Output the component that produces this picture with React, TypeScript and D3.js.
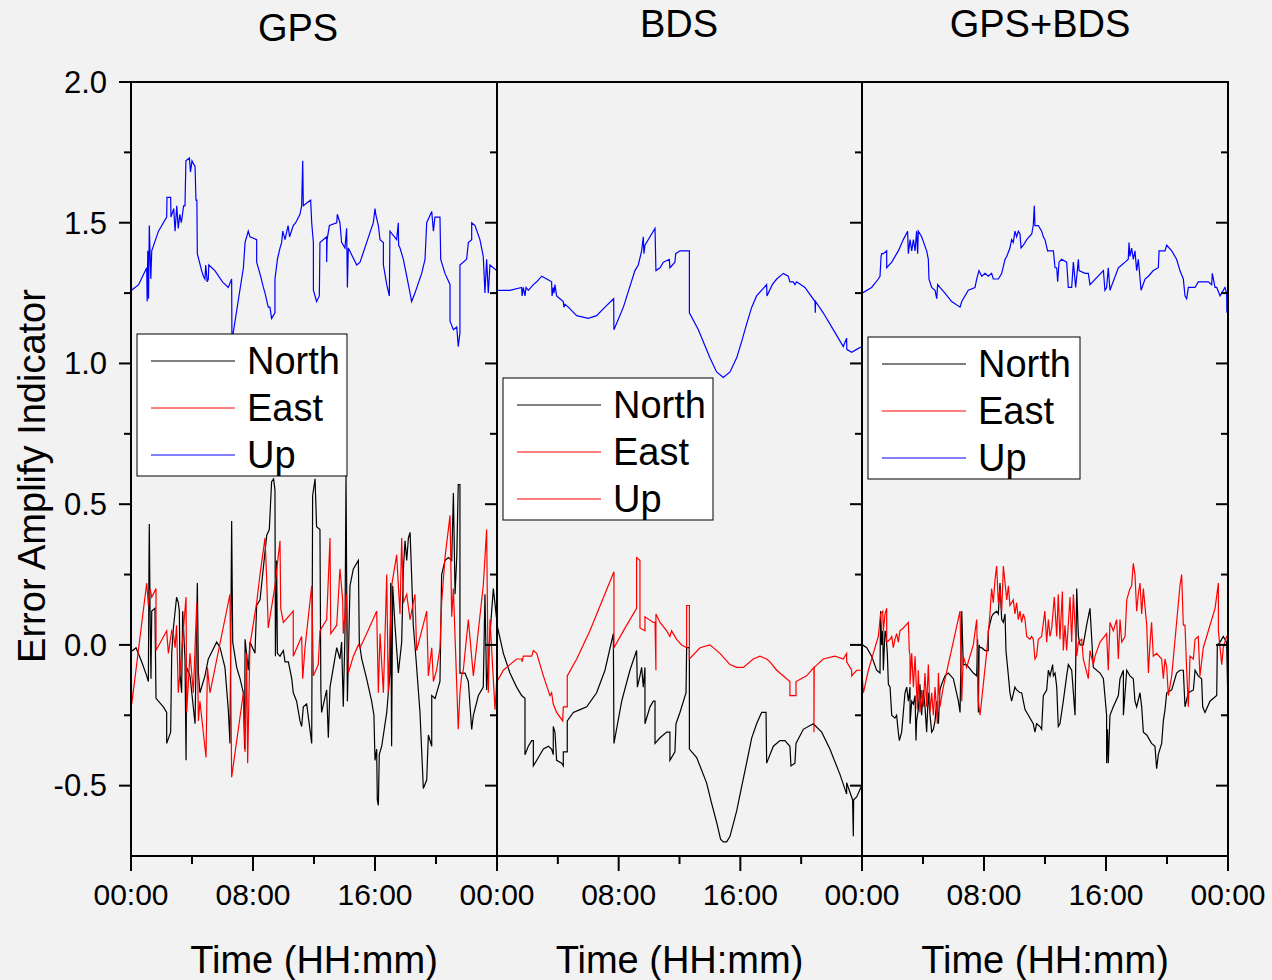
import React from 'react';
import * as d3 from 'd3';

type Pt = [number, number];

const panelTitles = ['GPS', 'BDS', 'GPS+BDS'];
const seriesNames = ['North', 'East', 'Up'];
const yTicks = [-0.5, 0, 0.5, 1.0, 1.5, 2.0];
const yMinorTicks = [-0.25, 0.25, 0.75, 1.25, 1.75];
const xTicks = [0, 8, 16, 24];
const xMinorTicks = [4, 12, 20];
const xTickLabels = ['00:00', '08:00', '16:00', '00:00'];
const xAxisTitle = 'Time (HH:mm)';
const yAxisTitle = 'Error Amplify Indicator';

// ---------- GPS ----------
const gpsNorth: Pt[] = [[0,-0.02],[0.11,-0.02],[0.33,-0.01],[0.7,-0.06],[1.03,-0.11],[1.14,-0.13],[1.18,0.30],[1.2,0.43],[1.25,0.12],[1.31,-0.12],[1.36,0.12],[1.57,0.13],[1.64,-0.19],[2.12,-0.22],[2.34,-0.24],[2.34,-0.35],[2.6,-0.31],[2.67,-0.03],[2.78,0.06],[2.99,0.17],[3.1,0.15],[3.17,0.12],[3.21,-0.10],[3.32,-0.17],[3.39,0.12],[3.54,-0.05],[3.61,-0.41],[3.65,-0.08],[3.87,-0.11],[4.2,-0.28],[4.35,0.22],[4.42,-0.10],[4.52,-0.17],[4.85,-0.11],[5.07,-0.05],[5.62,0.01],[5.84,-0.01],[6.16,-0.08],[6.38,-0.23],[6.49,-0.35],[6.6,0.44],[6.67,0.01],[6.93,-0.08],[7.15,-0.12],[7.37,-0.17],[7.45,-0.37],[7.48,0.02],[7.69,-0.09],[7.8,0.01],[8.13,-0.03],[8.24,0.14],[8.46,0.16],[8.9,0.39],[9.07,0.41],[9.22,0.58],[9.35,0.59],[9.44,0.55],[9.47,-0.04],[9.55,0.30],[9.6,-0.03],[9.77,-0.04],[9.99,-0.02],[10.1,-0.06],[10.32,-0.06],[10.54,-0.12],[10.64,-0.17],[10.86,-0.20],[11.08,-0.27],[11.19,-0.29],[11.3,-0.22],[11.52,-0.21],[11.85,-0.35],[11.91,0.53],[12.07,0.59],[12.17,0.42],[12.39,0.41],[12.45,-0.16],[12.5,-0.24],[12.83,-0.16],[12.94,-0.33],[13.05,-0.15],[13.49,-0.01],[13.7,-0.05],[13.81,0.01],[13.92,-0.22],[14.03,0.04],[14.1,0.60],[14.19,-0.20],[14.36,0.21],[14.58,0.27],[14.91,0.30],[14.97,0.01],[15.13,-0.05],[15.45,-0.12],[15.78,-0.20],[15.93,-0.25],[16.0,-0.41],[16.11,-0.37],[16.15,-0.55],[16.22,-0.57],[16.28,-0.39],[16.44,-0.36],[16.77,-0.24],[16.98,-0.10],[17.03,0.22],[17.09,-0.36],[17.16,0.21],[17.31,0.07],[17.53,-0.10],[17.75,0.01],[17.86,0.27],[17.97,0.37],[18.08,0.30],[18.19,0.38],[18.3,0.40],[18.4,0.25],[18.51,0.07],[18.69,-0.05],[18.95,-0.24],[19.17,-0.51],[19.39,-0.48],[19.5,-0.32],[19.72,-0.36],[19.72,-0.18],[19.94,-0.19],[20.26,-0.13],[20.37,0.25],[20.59,0.30],[20.81,0.31],[21.03,0.30],[21.14,0.54],[21.25,0.18],[21.36,0.31],[21.46,0.57],[21.57,0.57],[21.57,-0.10],[21.9,-0.10],[22.12,-0.13],[22.34,-0.30],[22.45,-0.25],[22.78,-0.18],[23.1,-0.15],[23.21,0.18],[23.32,-0.16],[23.54,0.04],[23.76,0.20],[23.98,0.09],[24,0.06]];

const gpsEast: Pt[] = [[0,-0.04],[0.05,-0.21],[1.03,0.22],[1.14,0.14],[1.25,0.20],[1.36,0.17],[1.64,0.20],[1.64,-0.02],[2.34,0.05],[2.45,-0.03],[2.67,0.05],[2.78,0.04],[2.89,-0.01],[2.99,0.07],[3.1,-0.17],[3.61,0.17],[3.65,-0.24],[3.87,-0.03],[4.09,-0.17],[4.31,0.15],[4.42,-0.27],[4.52,-0.20],[4.92,-0.40],[5.01,-0.08],[5.18,-0.17],[6.49,0.18],[6.6,-0.47],[7.37,-0.17],[7.48,-0.38],[7.58,-0.03],[7.65,-0.42],[7.8,0.00],[8.24,0.15],[8.46,0.25],[8.79,0.38],[8.9,0.23],[9.0,0.06],[9.44,0.21],[9.77,0.37],[9.82,0.13],[9.99,0.08],[10.64,0.12],[10.64,-0.04],[11.19,0.03],[11.26,-0.12],[11.41,-0.01],[11.85,0.21],[11.96,-0.11],[12.28,-0.07],[12.39,0.05],[12.83,0.09],[13.05,0.38],[13.1,0.04],[13.49,0.07],[13.7,0.27],[13.88,0.16],[13.92,0.04],[14.14,0.18],[14.25,-0.10],[14.58,-0.04],[14.91,0.00],[15.02,-0.01],[15.45,0.04],[16.11,0.12],[16.22,-0.17],[16.33,0.04],[16.55,-0.17],[16.77,0.25],[16.87,-0.17],[17.09,0.21],[17.42,0.32],[17.64,0.11],[17.75,0.38],[17.86,0.15],[18.08,0.18],[18.3,0.09],[18.51,0.15],[18.62,0.18],[18.73,-0.02],[19.39,0.12],[19.5,-0.11],[19.72,-0.01],[19.83,-0.13],[20.04,-0.09],[20.26,-0.01],[20.37,0.15],[20.59,0.31],[20.92,0.46],[21.03,0.10],[21.14,0.20],[21.46,-0.30],[21.57,-0.17],[21.68,-0.11],[21.79,-0.09],[22.12,0.09],[22.45,-0.11],[23.1,0.21],[23.32,0.41],[23.43,-0.17],[23.54,0.09],[23.87,-0.23],[24,-0.11]];

const gpsUp: Pt[] = [[0,1.33],[0.04,1.26],[0.5,1.28],[1.03,1.34],[1.06,1.22],[1.1,1.40],[1.15,1.23],[1.2,1.49],[1.3,1.30],[1.36,1.40],[1.8,1.47],[2.34,1.52],[2.36,1.59],[2.6,1.59],[2.62,1.52],[2.8,1.55],[2.89,1.47],[3.0,1.56],[3.1,1.48],[3.2,1.53],[3.3,1.50],[3.45,1.56],[3.54,1.56],[3.6,1.72],[3.83,1.73],[3.9,1.68],[4.0,1.72],[4.09,1.71],[4.2,1.70],[4.26,1.58],[4.32,1.58],[4.35,1.39],[4.63,1.33],[4.75,1.31],[4.85,1.30],[4.9,1.35],[5.0,1.29],[5.07,1.30],[5.1,1.35],[5.5,1.33],[6.0,1.29],[6.38,1.27],[6.6,1.30],[6.62,1.08],[7.37,1.34],[7.48,1.43],[7.69,1.47],[7.8,1.45],[8.24,1.44],[8.24,1.36],[8.5,1.31],[8.68,1.27],[8.79,1.25],[9.0,1.20],[9.11,1.20],[9.22,1.16],[9.44,1.18],[9.44,1.30],[9.6,1.37],[9.77,1.41],[9.88,1.43],[9.95,1.47],[10.1,1.44],[10.3,1.49],[10.4,1.45],[10.64,1.49],[10.8,1.50],[11.08,1.53],[11.19,1.56],[11.26,1.72],[11.3,1.56],[11.52,1.57],[11.78,1.58],[11.85,1.50],[11.91,1.46],[11.96,1.43],[11.96,1.26],[12.17,1.22],[12.35,1.24],[12.39,1.43],[12.83,1.45],[12.83,1.36],[12.86,1.44],[13.01,1.49],[13.49,1.50],[13.53,1.53],[13.7,1.50],[13.81,1.43],[14.03,1.41],[14.14,1.48],[14.19,1.27],[14.25,1.41],[14.8,1.35],[15.02,1.36],[15.89,1.50],[16.0,1.55],[16.05,1.53],[16.22,1.49],[16.33,1.44],[16.55,1.43],[16.55,1.35],[16.77,1.28],[16.94,1.24],[16.98,1.47],[17.42,1.44],[17.53,1.50],[17.55,1.42],[17.64,1.41],[17.86,1.37],[18.08,1.31],[18.3,1.25],[18.4,1.22],[18.62,1.25],[19.06,1.32],[19.28,1.37],[19.39,1.50],[19.72,1.54],[19.83,1.47],[19.93,1.52],[20.26,1.52],[20.31,1.37],[20.59,1.32],[20.92,1.28],[20.92,1.15],[21.14,1.12],[21.36,1.13],[21.46,1.06],[21.57,1.11],[21.57,1.35],[22.01,1.37],[22.12,1.43],[22.34,1.44],[22.34,1.50],[22.56,1.49],[22.88,1.44],[23.1,1.38],[23.21,1.25],[23.32,1.37],[23.43,1.25],[23.54,1.35],[23.98,1.33],[24,1.26]];

// ---------- BDS ----------
const bdsNorth: Pt[] = [[0,0.07],[0.09,0.05],[0.42,-0.03],[0.85,-0.10],[1.29,-0.15],[1.62,-0.18],[1.84,-0.19],[1.84,-0.39],[2.06,-0.36],[2.28,-0.34],[2.39,-0.34],[2.39,-0.43],[2.72,-0.40],[3.05,-0.37],[3.38,-0.36],[3.59,-0.37],[3.70,-0.39],[3.70,-0.29],[3.81,-0.31],[3.92,-0.41],[4.25,-0.42],[4.36,-0.43],[4.36,-0.38],[4.62,-0.38],[4.62,-0.27],[5.02,-0.24],[5.46,-0.23],[5.90,-0.22],[6.55,-0.17],[7.10,-0.09],[7.65,0.04],[7.69,-0.35],[8.20,-0.20],[8.74,-0.09],[9.18,-0.02],[9.23,-0.15],[9.40,-0.11],[9.51,-0.08],[9.62,-0.15],[9.73,-0.08],[9.73,-0.28],[10.06,-0.22],[10.28,-0.20],[10.39,-0.20],[10.39,-0.35],[10.72,-0.33],[11.16,-0.31],[11.37,-0.31],[11.37,-0.41],[11.70,-0.38],[11.77,-0.28],[12.03,-0.24],[12.43,-0.17],[12.47,-0.01],[12.65,-0.01],[12.65,-0.37],[13.13,-0.40],[13.78,-0.49],[14.1,-0.56],[14.44,-0.63],[14.7,-0.69],[14.88,-0.70],[15.1,-0.70],[15.32,-0.68],[15.76,-0.59],[16.1,-0.50],[16.41,-0.42],[16.75,-0.33],[17.07,-0.28],[17.40,-0.24],[17.69,-0.24],[17.73,-0.42],[18.17,-0.36],[18.61,-0.34],[18.93,-0.34],[19.26,-0.36],[19.33,-0.43],[19.59,-0.42],[19.66,-0.35],[20.14,-0.30],[20.80,-0.28],[21.35,-0.31],[21.89,-0.37],[22.55,-0.46],[22.99,-0.53],[22.99,-0.49],[23.38,-0.55],[23.43,-0.68],[23.45,-0.55],[23.65,-0.54],[23.98,-0.50],[24,-0.50]];

const bdsEast: Pt[] = [[0,-0.13],[0.42,-0.09],[0.85,-0.07],[1.29,-0.05],[1.62,-0.05],[1.65,-0.06],[1.73,-0.04],[1.95,-0.04],[2.28,-0.04],[2.39,-0.02],[2.61,-0.03],[3.05,-0.11],[3.48,-0.18],[3.59,-0.17],[3.70,-0.21],[3.92,-0.24],[4.32,-0.27],[4.36,-0.22],[4.62,-0.22],[4.62,-0.11],[5.24,-0.05],[6.11,0.05],[7.69,0.26],[7.69,-0.01],[8.31,0.05],[9.18,0.13],[9.18,0.31],[9.40,0.30],[9.40,0.06],[9.73,0.05],[9.73,0.10],[10.28,0.08],[10.39,0.08],[10.45,-0.09],[10.45,0.11],[10.72,0.08],[11.16,0.05],[11.37,0.03],[11.48,0.05],[11.81,0.02],[12.14,0.0],[12.47,-0.01],[12.47,0.14],[12.65,0.14],[12.65,-0.05],[13.35,-0.01],[14.0,0.0],[14.66,-0.03],[15.32,-0.07],[15.76,-0.08],[16.20,-0.08],[16.85,-0.05],[17.29,-0.04],[17.73,-0.05],[17.95,-0.06],[18.39,-0.09],[19.26,-0.13],[19.26,-0.18],[19.66,-0.18],[19.66,-0.13],[20.36,-0.11],[20.84,-0.08],[20.84,-0.31],[20.86,-0.08],[21.45,-0.05],[22.22,-0.04],[22.77,-0.05],[22.99,-0.03],[22.99,-0.06],[23.32,-0.09],[23.32,-0.11],[23.65,-0.09],[24,-0.09]];

const bdsUp: Pt[] = [[0,1.26],[0.85,1.26],[1.62,1.27],[1.65,1.24],[1.73,1.27],[1.84,1.24],[1.91,1.27],[2.06,1.26],[2.39,1.28],[2.61,1.29],[2.94,1.31],[3.27,1.30],[3.59,1.29],[3.62,1.24],[3.70,1.27],[3.75,1.25],[3.81,1.28],[3.92,1.24],[4.14,1.23],[4.36,1.22],[4.40,1.20],[4.47,1.21],[4.69,1.20],[5.24,1.17],[6.0,1.16],[6.55,1.17],[7.10,1.20],[7.67,1.23],[7.69,1.12],[8.31,1.20],[9.07,1.33],[9.29,1.35],[9.51,1.40],[9.62,1.45],[9.66,1.39],[9.73,1.42],[10.06,1.45],[10.39,1.48],[10.45,1.33],[10.72,1.34],[10.94,1.36],[11.33,1.37],[11.37,1.34],[11.70,1.36],[11.75,1.39],[12.03,1.40],[12.36,1.40],[12.65,1.40],[12.65,1.18],[13.24,1.12],[14.0,1.02],[14.44,0.97],[14.88,0.95],[15.32,0.97],[15.76,1.02],[16.1,1.08],[16.41,1.14],[16.75,1.20],[17.07,1.24],[17.73,1.28],[17.75,1.24],[18.1,1.28],[18.39,1.30],[18.83,1.32],[19.15,1.31],[19.26,1.29],[19.48,1.29],[19.59,1.28],[19.70,1.29],[20.25,1.27],[20.91,1.22],[20.93,1.18],[20.95,1.22],[21.45,1.18],[22.11,1.12],[22.77,1.06],[22.99,1.09],[23.0,1.05],[23.32,1.04],[23.65,1.05],[23.98,1.06],[24,1.06]];

// ---------- GPS+BDS ----------
const comNorth: Pt[] = [[0,0.00],[0.04,0.00],[0.31,-0.01],[0.63,-0.04],[0.96,-0.09],[1.18,-0.10],[1.22,0.12],[1.29,0.00],[1.36,0.05],[1.40,-0.09],[1.51,0.05],[1.57,0.04],[1.66,-0.03],[1.73,-0.14],[1.84,-0.15],[1.95,-0.25],[2.16,-0.26],[2.27,-0.25],[2.38,-0.31],[2.45,-0.34],[2.60,-0.31],[2.71,-0.24],[2.82,-0.17],[2.93,-0.15],[3.04,-0.20],[3.15,-0.15],[3.15,-0.28],[3.26,-0.20],[3.37,-0.21],[3.48,-0.18],[3.54,-0.34],[3.58,-0.27],[3.69,-0.23],[3.80,-0.14],[3.91,-0.25],[4.02,-0.16],[4.13,-0.22],[4.24,-0.31],[4.35,-0.17],[4.46,-0.25],[4.57,-0.31],[4.68,-0.30],[4.79,-0.27],[4.90,-0.20],[5.01,-0.28],[5.11,-0.16],[5.22,-0.14],[5.44,-0.11],[5.66,-0.10],[5.99,-0.12],[6.32,-0.20],[6.43,-0.24],[6.54,0.12],[6.64,-0.07],[6.86,-0.07],[7.30,-0.10],[7.52,-0.11],[7.58,0.02],[7.63,-0.24],[7.68,0.00],[7.74,-0.01],[7.85,-0.01],[8.07,-0.02],[8.28,-0.02],[8.28,0.05],[8.50,0.10],[8.61,0.11],[8.83,0.12],[8.94,0.11],[9.05,0.22],[9.09,0.17],[9.16,0.09],[9.27,0.08],[9.38,0.11],[9.44,-0.02],[9.60,-0.11],[9.70,-0.17],[9.81,-0.20],[10.03,-0.15],[10.14,-0.16],[10.36,-0.17],[10.47,-0.17],[10.58,-0.20],[10.69,-0.23],[10.91,-0.25],[11.23,-0.28],[11.34,-0.31],[11.45,-0.28],[11.67,-0.29],[11.78,-0.30],[11.89,-0.18],[12.11,-0.16],[12.22,-0.09],[12.33,-0.11],[12.50,-0.07],[12.55,-0.11],[12.66,-0.10],[12.77,-0.15],[12.87,-0.29],[12.98,-0.28],[13.20,-0.20],[13.42,-0.11],[13.53,-0.07],[13.64,-0.08],[13.75,-0.09],[13.86,-0.17],[13.97,-0.25],[14.08,0.20],[14.19,0.03],[14.30,0.00],[14.51,0.00],[14.73,0.07],[14.95,0.13],[15.17,-0.08],[15.61,-0.10],[15.83,-0.12],[16.04,-0.25],[16.04,-0.42],[16.10,-0.30],[16.15,-0.42],[16.26,-0.25],[16.48,-0.22],[16.81,-0.18],[16.92,-0.12],[17.14,-0.09],[17.14,-0.25],[17.36,-0.09],[17.57,-0.11],[17.79,-0.12],[17.90,-0.20],[18.01,-0.22],[18.23,-0.17],[18.34,-0.22],[18.45,-0.31],[18.67,-0.32],[18.99,-0.35],[19.21,-0.36],[19.32,-0.44],[19.43,-0.39],[19.65,-0.35],[19.76,-0.27],[19.87,-0.23],[19.98,-0.17],[20.31,-0.16],[20.63,-0.10],[20.85,-0.09],[21.07,-0.09],[21.18,-0.22],[21.40,-0.17],[21.73,-0.16],[21.84,-0.09],[22.05,-0.11],[22.27,-0.12],[22.34,-0.22],[22.49,-0.24],[22.82,-0.20],[23.26,-0.18],[23.30,0.00],[23.48,0.01],[23.69,0.03],[23.91,0.01],[24,-0.22]];

const comEast: Pt[] = [[0,-0.10],[0.09,-0.17],[0.42,-0.09],[0.74,-0.03],[1.07,0.03],[1.22,0.11],[1.36,0.12],[1.40,0.05],[1.51,0.11],[1.62,0.13],[1.62,0.01],[1.84,0.02],[1.95,0.03],[2.05,-0.01],[2.16,0.02],[2.27,0.04],[2.38,0.01],[2.49,0.05],[2.71,0.06],[3.04,0.08],[3.10,-0.02],[3.15,-0.04],[3.15,-0.14],[3.26,-0.03],[3.37,-0.15],[3.48,-0.04],[3.63,-0.23],[3.69,-0.09],[3.80,-0.24],[3.91,-0.16],[4.02,-0.22],[4.13,-0.10],[4.24,-0.22],[4.35,-0.07],[4.46,-0.24],[4.57,-0.17],[4.68,-0.25],[4.79,-0.15],[4.94,-0.28],[5.01,-0.10],[5.11,-0.22],[5.33,-0.15],[6.43,0.12],[6.54,-0.20],[6.64,-0.04],[6.86,-0.08],[7.30,0.00],[7.52,0.09],[7.63,-0.20],[7.74,-0.25],[8.17,-0.03],[8.39,0.11],[8.50,0.20],[8.61,0.15],[8.72,0.23],[8.83,0.28],[8.94,0.15],[9.05,0.20],[9.16,0.12],[9.27,0.28],[9.38,0.22],[9.49,0.16],[9.60,0.21],[9.70,0.14],[9.92,0.16],[10.03,0.11],[10.14,0.15],[10.25,0.09],[10.36,0.12],[10.47,0.08],[10.58,0.11],[10.69,0.09],[10.80,0.03],[11.01,0.02],[11.12,0.03],[11.23,0.02],[11.34,-0.05],[11.45,-0.04],[11.56,0.02],[11.78,0.03],[11.99,0.12],[12.11,0.01],[12.22,0.09],[12.33,0.03],[12.44,0.06],[12.61,0.17],[12.77,0.03],[12.87,0.18],[12.98,0.02],[13.14,0.19],[13.20,-0.02],[13.31,0.07],[13.42,-0.02],[13.64,0.17],[13.75,0.01],[13.86,0.18],[14.08,-0.04],[14.19,0.01],[14.41,0.02],[14.51,-0.05],[14.84,-0.12],[14.95,-0.02],[15.17,-0.07],[15.28,-0.04],[15.61,0.01],[16.04,0.04],[16.15,-0.09],[16.26,0.08],[16.48,0.05],[16.70,0.09],[16.81,-0.05],[16.92,0.09],[17.03,0.01],[17.25,0.03],[17.36,0.16],[17.57,0.20],[17.68,0.21],[17.79,0.29],[17.90,0.25],[18.01,0.12],[18.12,0.18],[18.23,0.22],[18.34,0.11],[18.45,0.20],[18.67,0.07],[18.78,-0.10],[18.89,0.01],[18.99,0.08],[19.10,-0.04],[19.32,-0.03],[19.65,-0.05],[19.76,-0.12],[19.87,-0.05],[19.98,-0.08],[20.09,-0.18],[20.31,-0.11],[20.41,-0.05],[20.85,0.21],[20.96,0.25],[21.07,0.07],[21.18,0.07],[21.29,-0.09],[21.40,-0.22],[21.51,-0.04],[21.73,-0.05],[21.84,0.02],[22.05,0.03],[22.16,-0.11],[22.38,-0.01],[22.82,0.07],[23.15,0.13],[23.37,0.22],[23.37,0.05],[23.59,-0.07],[23.69,-0.01],[23.91,0.03],[24,0.03]];

const comUp: Pt[] = [[0,1.31],[0.02,1.25],[0.63,1.27],[1.07,1.30],[1.18,1.31],[1.25,1.38],[1.29,1.39],[1.40,1.39],[1.62,1.40],[1.62,1.34],[1.95,1.36],[2.38,1.40],[2.71,1.44],[2.99,1.47],[3.04,1.39],[3.15,1.44],[3.26,1.40],[3.37,1.44],[3.48,1.40],[3.58,1.47],[3.65,1.39],[3.69,1.47],[3.91,1.45],[4.24,1.40],[4.35,1.37],[4.39,1.30],[4.57,1.27],[4.79,1.26],[4.90,1.23],[4.96,1.28],[5.11,1.27],[5.44,1.25],[5.88,1.22],[6.43,1.20],[6.54,1.22],[6.97,1.26],[7.41,1.27],[7.52,1.30],[7.67,1.33],[7.85,1.31],[8.07,1.32],[8.28,1.31],[8.50,1.32],[8.61,1.30],[8.94,1.30],[9.05,1.31],[9.16,1.32],[9.38,1.37],[9.49,1.38],[9.70,1.41],[9.81,1.44],[9.92,1.43],[10.03,1.47],[10.14,1.45],[10.25,1.47],[10.36,1.46],[10.43,1.41],[10.58,1.42],[10.80,1.44],[11.13,1.46],[11.23,1.49],[11.30,1.56],[11.34,1.49],[11.56,1.49],[11.78,1.47],[11.89,1.45],[12.0,1.44],[12.17,1.40],[12.44,1.40],[12.55,1.40],[12.66,1.34],[12.77,1.34],[12.83,1.29],[12.92,1.36],[13.09,1.37],[13.42,1.36],[13.53,1.27],[13.75,1.27],[13.86,1.36],[14.01,1.27],[14.19,1.37],[14.23,1.33],[14.62,1.32],[14.84,1.32],[14.95,1.28],[15.83,1.33],[15.93,1.26],[16.04,1.27],[16.15,1.34],[16.26,1.26],[16.81,1.34],[17.03,1.35],[17.25,1.36],[17.46,1.37],[17.51,1.43],[17.57,1.38],[17.68,1.41],[17.79,1.37],[17.90,1.40],[18.01,1.33],[18.12,1.37],[18.30,1.26],[18.56,1.30],[18.78,1.31],[19.10,1.33],[19.43,1.34],[19.48,1.40],[19.87,1.40],[19.98,1.42],[20.31,1.40],[20.63,1.37],[20.85,1.33],[21.07,1.30],[21.18,1.24],[21.29,1.23],[21.40,1.27],[21.84,1.27],[22.05,1.29],[22.71,1.29],[22.93,1.28],[22.97,1.32],[23.15,1.27],[23.26,1.27],[23.48,1.24],[23.80,1.27],[23.91,1.25],[23.93,1.18],[24,1.27]];

const panelSeries: Pt[][][] = [
  [gpsNorth, gpsEast, gpsUp],
  [bdsNorth, bdsEast, bdsUp],
  [comNorth, comEast, comUp],
];

const lineColors = ['#000000', '#ff0000', '#0000ff'];
const legendColors = [
  ['#000000', '#ff0000', '#0000ff'],
  ['#000000', '#ff0000', '#ff0000'],
  ['#000000', '#ff0000', '#0000ff'],
];
const legendBoxes = [
  { x: 137, y: 334, w: 210, h: 142 },
  { x: 503, y: 378, w: 210, h: 142 },
  { x: 868, y: 337, w: 212, h: 142 },
];

const FONT = 'Arial, "Liberation Sans", Helvetica, sans-serif';

export default function App() {
  const W = 1272;
  const H = 980;
  const top = 82;
  const bottom = 856;
  const edges = [131, 497, 862, 1228];
  const titleX = [298, 679, 1040];
  const titleY = [41, 37, 37];
  const y = d3.scaleLinear().domain([-0.75, 2.0]).range([bottom, top]);

  return (
    <svg width={W} height={H} style={{ position: 'absolute', left: 0, top: 0, background: '#f2f2f2' }} fontFamily={FONT}>
      <rect x={0} y={0} width={W} height={H} fill="#f2f2f2" />
      <defs>
        {[0, 1, 2].map((i) => (
          <clipPath id={`clip${i}`} key={i}>
            <rect x={edges[i]} y={top} width={edges[i + 1] - edges[i]} height={bottom - top} />
          </clipPath>
        ))}
      </defs>
      {[0, 1, 2].map((p) => {
        const x = d3.scaleLinear().domain([0, 24]).range([edges[p], edges[p + 1]]);
        const line = d3.line<Pt>().x((d) => x(d[0])).y((d) => y(d[1]));
        const lb = legendBoxes[p];
        return (
          <g key={p}>
            <g clipPath={`url(#clip${p})`}>
              {panelSeries[p].map((s, k) => (
                <path key={k} d={line(s) || ''} fill="none" stroke={lineColors[k]} strokeWidth={1.2} strokeLinejoin="miter" />
              ))}
            </g>
            {/* legend */}
            <rect x={lb.x} y={lb.y} width={lb.w} height={lb.h} fill="#ffffff" stroke="#000" strokeWidth={1} />
            {seriesNames.map((n, k) => {
              const cy = lb.y + 27 + k * 47;
              return (
                <g key={n}>
                  <line x1={lb.x + 14} x2={lb.x + 98} y1={cy} y2={cy} stroke={legendColors[p][k]} strokeWidth={1} />
                  <text x={lb.x + 110} y={cy} dy="0.35em" fontSize={38} fill="#000">{n}</text>
                </g>
              );
            })}
            {/* frame */}
            <rect x={edges[p]} y={top} width={edges[p + 1] - edges[p]} height={bottom - top} fill="none" stroke="#000" strokeWidth={2} />
            {/* right inward ticks */}
            {yTicks.map((t) => (
              <line key={'r' + t} x1={edges[p + 1] - 12} x2={edges[p + 1]} y1={y(t)} y2={y(t)} stroke="#000" strokeWidth={2} />
            ))}
            {yMinorTicks.map((t) => (
              <line key={'rm' + t} x1={edges[p + 1] - 7} x2={edges[p + 1]} y1={y(t)} y2={y(t)} stroke="#000" strokeWidth={2} />
            ))}
            {/* bottom ticks */}
            {xTicks.map((t) => (
              <line key={'b' + t} x1={x(t)} x2={x(t)} y1={bottom} y2={bottom + 15} stroke="#000" strokeWidth={2} />
            ))}
            {xMinorTicks.map((t) => (
              <line key={'bm' + t} x1={x(t)} x2={x(t)} y1={bottom} y2={bottom + 8} stroke="#000" strokeWidth={2} />
            ))}
            {xTicks.map((t, i) =>
              i === 3 && p < 2 ? null : (
                <text key={'bl' + t} x={x(t)} y={905} textAnchor="middle" fontSize={30} fill="#000">{xTickLabels[i]}</text>
              )
            )}
            <text x={(edges[p] + edges[p + 1]) / 2} y={973} textAnchor="middle" fontSize={38} fill="#000">{xAxisTitle}</text>
            <text x={titleX[p]} y={titleY[p]} textAnchor="middle" fontSize={38} fill="#000">{panelTitles[p]}</text>
          </g>
        );
      })}
      {/* left axis of first panel */}
      {yTicks.map((t) => (
        <g key={'l' + t}>
          <line x1={119} x2={131} y1={y(t)} y2={y(t)} stroke="#000" strokeWidth={2} />
          <text x={107} y={y(t)} dy="0.35em" textAnchor="end" fontSize={31} fill="#000">{t.toFixed(1)}</text>
        </g>
      ))}
      {yMinorTicks.map((t) => (
        <line key={'lm' + t} x1={124} x2={131} y1={y(t)} y2={y(t)} stroke="#000" strokeWidth={2} />
      ))}
      <text transform={`translate(45,476) rotate(-90)`} textAnchor="middle" fontSize={38} fill="#000">{yAxisTitle}</text>
    </svg>
  );
}
